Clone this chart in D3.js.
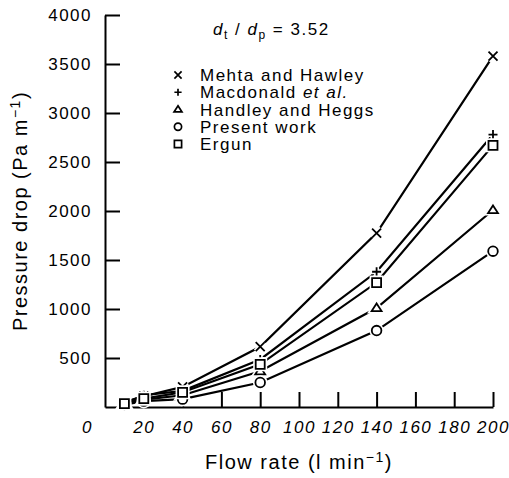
<!DOCTYPE html>
<html>
<head>
<meta charset="utf-8">
<style>
  body { margin: 0; background: #fff; }
  svg { display: block; background: #fff; }
  text { font-family: "Liberation Sans", Arial, Helvetica, sans-serif; fill: #000; }
  .axis path, .axis line { stroke: #000; stroke-width: 2px; }
  .axis text { font-size: 17px; letter-spacing: 1.5px; }
  .xaxis text { font-style: italic; }
  .series path.line { fill: none; stroke: #000; stroke-width: 2.2px; }
  .legend text { font-size: 17px; letter-spacing: 1.5px; }
</style>
</head>
<body>
<svg width="509" height="478"></svg>
<script src="https://cdn.jsdelivr.net/npm/d3@7"></script>
<script>
// flow rate (l/min)
var flow = [10, 20, 40, 80, 140, 200];

// pressure drop (Pa/m) per correlation
var mehtaHawley  = [50, 110, 205, 615, 1775, 3580];
var macdonald    = [40, 120, 165, 485, 1380, 2780];
var ergun        = [35, 85, 150, 435, 1270, 2670];
var handleyHeggs = [30, 75, 120, 365, 1010, 2010];
var presentWork  = [25, 60, 80, 250, 780, 1590];

var seriesNames = ["Mehta and Hawley", "Macdonald", "Handley and Heggs", "Present work", "Ergun"];
var xTicks = [0, 20, 40, 60, 80, 100, 120, 140, 160, 180, 200];
var yTicks = [500, 1000, 1500, 2000, 2500, 3000, 3500, 4000];

var series = [
  {name: "Mehta and Hawley", sym: "cross", values: mehtaHawley},
  {name: "Macdonald", sym: "plus", values: macdonald},
  {name: "Handley and Heggs", sym: "triangle", values: handleyHeggs},
  {name: "Present work", sym: "circle", values: presentWork},
  {name: "Ergun", sym: "square", values: ergun}
];

var svg = d3.select("svg");

var x = d3.scaleLinear().domain([0, 200]).range([105, 493]);
var y = d3.scaleLinear().domain([0, 4000]).range([407, 15]);

// marker path generator
function marker(sym, r) {
  if (sym == "cross") {
    return "M" + (-r) + "," + (-r) + "L" + r + "," + r + "M" + (-r) + "," + r + "L" + r + "," + (-r);
  }
  if (sym == "plus") {
    return "M" + (-r) + ",0L" + r + ",0M0," + (-r) + "L0," + r;
  }
  if (sym == "square") {
    return "M" + (-r) + "," + (-r) + "H" + r + "V" + r + "H" + (-r) + "Z";
  }
  if (sym == "triangle") {
    var h = r * 1.7;
    return "M0," + (-h * 0.6) + "L" + (r * 1.1) + "," + (h * 0.4) + "L" + (-r * 1.1) + "," + (h * 0.4) + "Z";
  }
  return d3.arc()({innerRadius: 0, outerRadius: r, startAngle: 0, endAngle: 2 * Math.PI});
}

// axes
var yAxis = d3.axisLeft(y).tickValues(yTicks).tickFormat(d3.format("d"))
  .tickSize(-15).tickSizeOuter(0).tickPadding(13);
svg.append("g").attr("class", "axis yaxis")
  .attr("transform", "translate(" + x(0) + ",0)")
  .call(yAxis);

var xAxis = d3.axisBottom(x).tickValues(xTicks).tickFormat(d3.format("d"))
  .tickSize(-15).tickSizeOuter(0).tickPadding(14);
var gx = svg.append("g").attr("class", "axis xaxis")
  .attr("transform", "translate(0," + y(0) + ")")
  .call(xAxis);
gx.selectAll(".tick").filter(function(d) { return d == 0; })
  .select("line").remove();
gx.selectAll(".tick").filter(function(d) { return d == 0; })
  .select("text").attr("x", -18);

// lines
var line = d3.line()
  .x(function(d, i) { return x(flow[i]); })
  .y(function(d) { return y(d); });

var g = svg.append("g").attr("class", "series");
g.selectAll("path.line")
  .data(series)
  .enter().append("path")
  .attr("class", "line")
  .attr("d", function(d) { return line(d.values); });

// markers (white halo first, so lines stop short of the symbol)
series.forEach(function(s) {
  var r = s.sym == "circle" ? 4.8 : 4.5;
  var open = (s.sym == "cross" || s.sym == "plus");
  g.selectAll(null)
    .data(s.values)
    .enter().append("path")
    .attr("transform", function(d, i) { return "translate(" + x(flow[i]) + "," + y(d) + ")"; })
    .attr("d", marker(s.sym, r))
    .attr("fill", open ? "none" : "#fff")
    .attr("stroke", "#fff")
    .attr("stroke-width", 5);
  g.selectAll(null)
    .data(s.values)
    .enter().append("path")
    .attr("transform", function(d, i) { return "translate(" + x(flow[i]) + "," + y(d) + ")"; })
    .attr("d", marker(s.sym, r))
    .attr("fill", open ? "none" : "#fff")
    .attr("stroke", "#000")
    .attr("stroke-width", 1.8);
});

// legend
var legend = svg.append("g").attr("class", "legend");
var title = legend.append("text").attr("x", 213).attr("y", 35).style("letter-spacing", "1.5px");
title.append("tspan").style("font-style", "italic").text("d");
title.append("tspan").attr("dy", 4).style("font-size", "12px").text("t");
title.append("tspan").attr("dy", -4).text(" / ");
title.append("tspan").style("font-style", "italic").text("d");
title.append("tspan").attr("dy", 4).style("font-size", "12px").text("p");
title.append("tspan").attr("dy", -4).text(" = 3.52");

var order = ["cross", "plus", "triangle", "circle", "square"];
var rowY = d3.scaleLinear().domain([0, 4]).range([75, 144]);
seriesNames.forEach(function(name, i) {
  legend.append("path")
    .attr("transform", "translate(178," + rowY(i) + ")")
    .attr("d", marker(order[i], 3.6))
    .attr("fill", "none")
    .attr("stroke", "#000")
    .attr("stroke-width", 1.7);
  var t = legend.append("text").attr("x", 200).attr("y", rowY(i) + 6);
  t.append("tspan").text(name);
  if (name == "Macdonald") {
    t.append("tspan").text(" ");
    t.append("tspan").style("font-style", "italic").text("et al.");
  }
});

// axis titles
var yt = svg.append("text")
  .attr("transform", "translate(27,211) rotate(-90)")
  .attr("text-anchor", "middle")
  .style("font-size", "20px").style("letter-spacing", "1.5px");
yt.append("tspan").text("Pressure drop (Pa m");
yt.append("tspan").attr("dy", -7).style("font-size", "14px").text("\u22121");
yt.append("tspan").attr("dy", 7).text(")");

var xt = svg.append("text")
  .attr("x", 299).attr("y", 469)
  .attr("text-anchor", "middle")
  .style("font-size", "20px").style("letter-spacing", "1.5px");
xt.append("tspan").text("Flow rate (l min");
xt.append("tspan").attr("dy", -7).style("font-size", "14px").text("\u22121");
xt.append("tspan").attr("dy", 7).text(")");
</script>
</body>
</html>
